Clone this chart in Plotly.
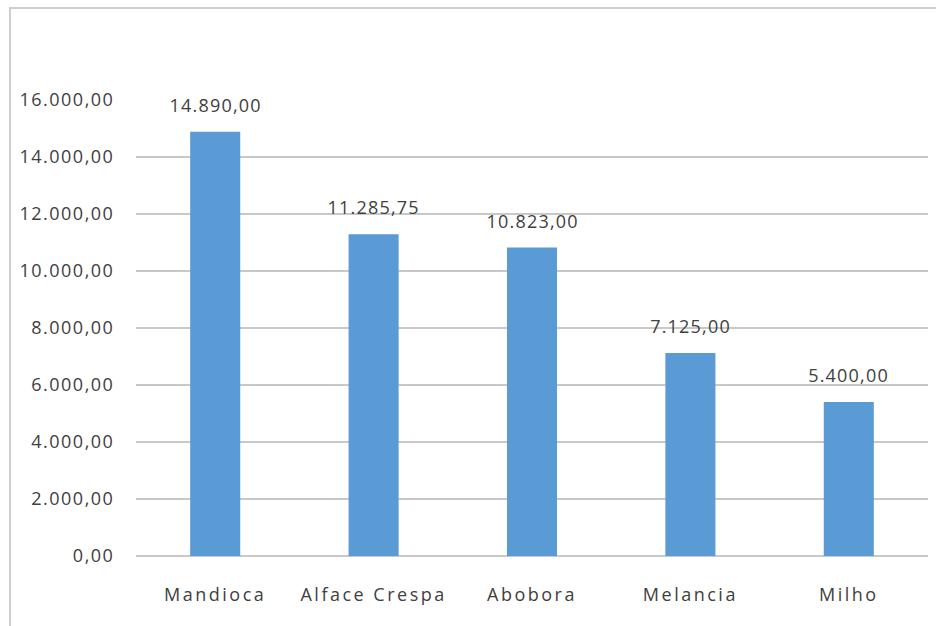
import plotly.graph_objects as go

categories = ["Mandioca", "Alface Crespa", "Abobora", "Melancia", "Milho"]
values = [14890.00, 11285.75, 10823.00, 7125.00, 5400.00]
y_ticks = [0, 2000, 4000, 6000, 8000, 10000, 12000, 14000, 16000]

FONT = "Open Sans, Liberation Sans, sans-serif"

def fmt_br(v):
    s = f"{v:,.2f}"
    return s.replace(",", "X").replace(".", ",").replace("X", ".")

fig = go.Figure(go.Bar(
    x=categories, y=values,
    marker=dict(color="#5B9BD5", line=dict(width=0)),
    hoverinfo="skip",
))

for c, v in zip(categories, values):
    fig.add_annotation(x=c, y=v, text=fmt_br(v), showarrow=False,
                       yanchor="bottom", yshift=13,
                       font=dict(family=FONT, size=18, color="#404040"))

fig.update_layout(
    width=936, height=626,
    margin=dict(l=136, r=8, t=100, b=70),
    paper_bgcolor="white", plot_bgcolor="white",
    separators=",.",
    bargap=0.684,
    showlegend=False,
    font=dict(family=FONT, color="#404040"),
    xaxis=dict(showgrid=False, showline=False, zeroline=False,
               ticks="outside", ticklen=22, tickcolor="rgba(0,0,0,0)",
               tickfont=dict(size=18, color="#404040")),
    yaxis=dict(range=[0, 16000], tickvals=y_ticks, tickformat=",.2f",
               showgrid=True, gridcolor="#C8C8C8", gridwidth=1.5,
               zeroline=True, zerolinecolor="#C8C8C8", zerolinewidth=1.5,
               showline=False, ticks="outside", ticklen=17, tickcolor="rgba(0,0,0,0)",
               tickfont=dict(size=18, color="#404040")),
    shapes=[dict(type="rect", xref="paper", yref="paper",
                 x0=(10 - 136) / 792, x1=1.2, y0=-0.3, y1=(556 - 8) / 456,
                 line=dict(color="#CFCFCF", width=2), fillcolor="rgba(0,0,0,0)", layer="below")],
)

post = """
var gd = document.getElementById('{plot_id}');
function spacing(){
  gd.querySelectorAll('.xtick text').forEach(function(t){ t.style.letterSpacing='2.5px'; });
  gd.querySelectorAll('.ytick text').forEach(function(t){ t.style.letterSpacing='1.5px'; });
  gd.querySelectorAll('.annotation-text').forEach(function(t){ t.style.letterSpacing='1.2px'; });
}
spacing();
gd.on('plotly_afterplot', spacing);
"""

fig.write_html("out.html", post_script=post)
